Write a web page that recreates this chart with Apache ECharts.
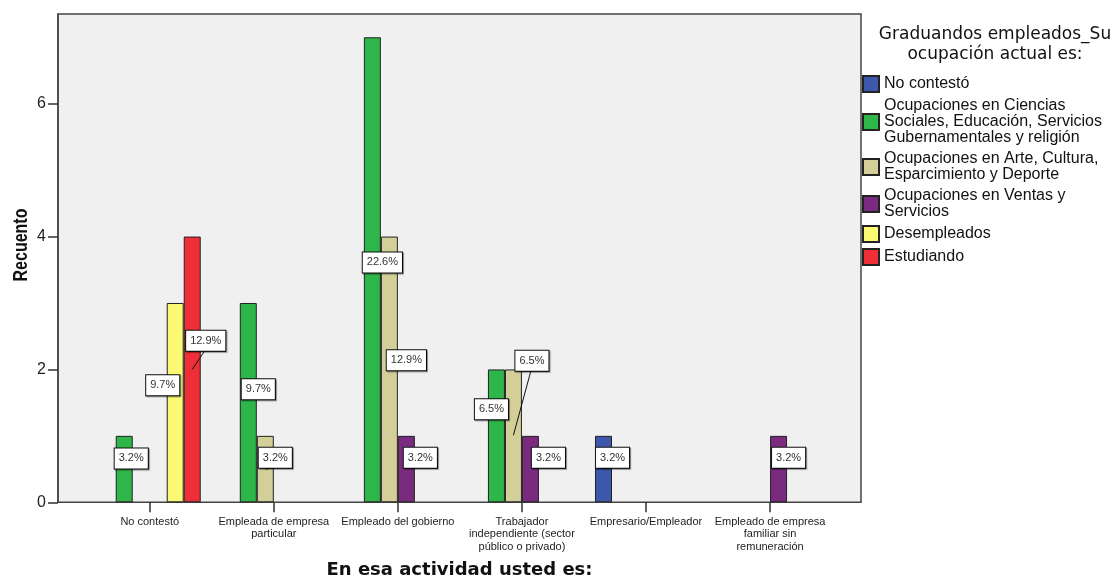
<!DOCTYPE html>
<html>
<head>
<meta charset="utf-8">
<script src="https://cdn.jsdelivr.net/npm/echarts@6/dist/echarts.min.js"></script>
<style>
  html, body { margin: 0; padding: 0; background: #fff; }
  #chart { width: 1119px; height: 579px; }
</style>
</head>
<body>
<div id="chart"></div>
<script>
// categories on the x axis
const categories = [
  'No contestó',
  'Empleada de empresa\nparticular',
  'Empleado del gobierno',
  'Trabajador\nindependiente (sector\npúblico o privado)',
  'Empresario/Empleador',
  'Empleado de empresa\nfamiliar sin\nremuneración'
];

const seriesNames = [
  'No contestó',
  'Ocupaciones en Ciencias\nSociales, Educación, Servicios\nGubernamentales y religión',
  'Ocupaciones en Arte, Cultura,\nEsparcimiento y Deporte',
  'Ocupaciones en Ventas y\nServicios',
  'Desempleados',
  'Estudiando'
];

// counts per category
const noContesto = [0, 0, 0, 0, 1, 0];
const cienciasSociales = [1, 3, 7, 2, 0, 0];
const arteCultura = [0, 1, 4, 2, 0, 0];
const ventasServicios = [0, 0, 1, 1, 0, 1];
const desempleados = [3, 0, 0, 0, 0, 0];
const estudiando = [4, 0, 0, 0, 0, 0];

const yTicks = [0, 2, 4, 6];

const seriesValues = [noContesto, cienciasSociales, arteCultura, ventasServicios, desempleados, estudiando];
const colors = ['#3d57ab', '#2fb64a', '#d4cf99', '#7a2a7f', '#fbf874', '#ee2f38'];

const total = seriesValues.reduce((s, arr) => s + arr.reduce((a, b) => a + b, 0), 0);
const pct = v => (v / total * 100).toFixed(1) + '%';

// label placement: [series, category, label centre (axis units), x shift px, leader-line start (axis units)]
const labelPlacement = [
  [1, 0, 0.66, 7, null],
  [4, 0, 1.76, -12.5, null],
  [5, 0, 2.43, 13.5, 2.0],
  [1, 1, 1.70, 10, null],
  [2, 1, 0.67, 10, 0.5],
  [1, 2, 3.61, 10, null],
  [2, 2, 2.14, 17, null],
  [3, 2, 0.67, 14, null],
  [1, 3, 1.40, -5, null],
  [2, 3, 2.13, 18.5, 1.01],
  [3, 3, 0.67, 18, null],
  [0, 4, 0.67, 9, 0.5],
  [3, 5, 0.67, 10, null]
];

const BAR_W = 17;
const Y_MAX = 7.35;
const FONT = 'Liberation Sans, Arial, sans-serif';

const chart = echarts.init(document.getElementById('chart'));

const barSeries = seriesValues.map((vals, i) => ({
  name: seriesNames[i],
  type: 'bar',
  xAxisIndex: 1,
  yAxisIndex: 1,
  barWidth: BAR_W,
  barGap: '0%',
  data: vals.map(v => v || '-'),
  itemStyle: { color: colors[i], borderColor: '#222', borderWidth: 1 }
}));

const labelSeries = {
  type: 'custom',
  xAxisIndex: 1,
  yAxisIndex: 1,
  z: 5,
  silent: true,
  data: labelPlacement.map(p => [p[1], p[2]]),
  encode: { x: 0, y: 1 },
  renderItem(params, api) {
    const [s, c, yv, dx, from] = labelPlacement[params.dataIndex];
    const base = api.coord([c, yv]);
    const barX = base[0] + (s - 2.5) * BAR_W;
    const lx = barX + dx;
    const ly = base[1];
    const children = [];
    if (from != null) {
      const a = api.coord([c, from]);
      children.push({
        type: 'line',
        shape: { x1: barX, y1: a[1], x2: lx - 1, y2: ly + 10 },
        style: { stroke: '#111', lineWidth: 1 }
      });
    }
    children.push({
      type: 'text',
      x: lx,
      y: ly,
      style: {
        text: pct(seriesValues[s][c]),
        fontSize: 11,
        fontFamily: FONT,
        fill: '#333',
        align: 'center',
        verticalAlign: 'middle',
        lineHeight: 12,
        backgroundColor: '#fff',
        borderColor: '#111',
        borderWidth: 1,
        padding: [4, 4],
        shadowColor: 'rgba(0,0,0,0.45)',
        shadowOffsetX: 1,
        shadowOffsetY: 1,
        shadowBlur: 1
      }
    });
    return { type: 'group', children };
  }
};

chart.setOption({
  animation: false,
  textStyle: { fontFamily: FONT },
  grid: [
    { left: 58, top: 14, width: 803, bottom: 76.7, show: true, backgroundColor: '#f0f0f0', borderColor: '#444', borderWidth: 1.5 },
    { left: 87.7, top: 14, width: 744.4, bottom: 76.7 }
  ],
  xAxis: [
    { gridIndex: 0, type: 'value', min: 0, max: 1, show: false },
    {
      gridIndex: 1,
      type: 'category',
      data: categories,
      axisLine: { show: false },
      axisTick: { show: true, alignWithLabel: true, length: 10, lineStyle: { color: '#333', width: 1.5 } },
      axisLabel: { fontSize: 11, lineHeight: 12.5, color: '#222', margin: 13, interval: 0 }
    }
  ],
  yAxis: [
    {
      gridIndex: 0,
      type: 'value',
      min: 0,
      max: Y_MAX,
      axisLine: { show: true, lineStyle: { color: '#444', width: 1.5 } },
      axisTick: { show: true, length: 10, customValues: yTicks, lineStyle: { color: '#333', width: 1.5 } },
      axisLabel: { fontSize: 16, color: '#222', margin: 12, customValues: yTicks },
      splitLine: { show: false }
    },
    { gridIndex: 1, type: 'value', min: 0, max: Y_MAX, show: false, splitLine: { show: false } }
  ],
  legend: {
    orient: 'vertical',
    left: 862,
    top: 75,
    padding: 0,
    itemWidth: 16,
    itemHeight: 16,
    itemGap: 5,
    icon: 'rect',
    data: seriesNames,
    textStyle: { fontSize: 16, lineHeight: 16, color: '#111', fontFamily: FONT }
  },
  graphic: [
    {
      type: 'text', x: 21, y: 245, rotation: Math.PI / 2, scaleY: 1.3,
      style: { text: 'Recuento', font: 'bold 16px Liberation Sans', fill: '#111', align: 'center', verticalAlign: 'middle' }
    },
    {
      type: 'text', x: 459.5, y: 570,
      style: { text: 'En esa actividad usted es:', font: 'bold 18px DejaVu Sans', fill: '#111', align: 'center', verticalAlign: 'middle' }
    },
    {
      type: 'text', x: 995, y: 45,
      style: { text: 'Graduandos empleados_Su\nocupación actual es:', font: '17px DejaVu Sans', lineHeight: 20, fill: '#111', align: 'center', verticalAlign: 'middle' }
    }
  ],
  series: barSeries.concat([labelSeries])
});

window.addEventListener('resize', () => chart.resize());
</script>
</body>
</html>
